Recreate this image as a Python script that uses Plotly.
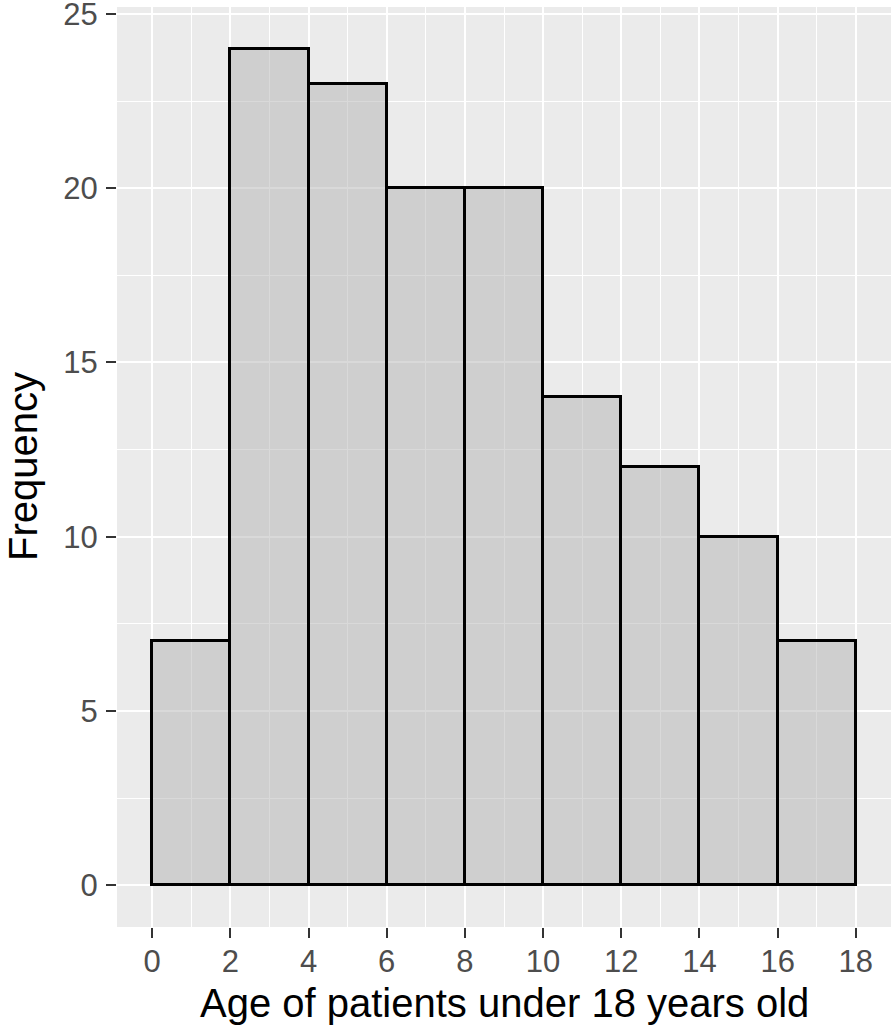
import plotly.graph_objects as go

bin_edges = [0, 2, 4, 6, 8, 10, 12, 14, 16, 18]
counts = [7, 24, 23, 20, 20, 14, 12, 10, 7]
x_ticks = [0, 2, 4, 6, 8, 10, 12, 14, 16, 18]
y_ticks = [0, 5, 10, 15, 20, 25]
x_title = "Age of patients under 18 years old"
y_title = "Frequency"

centers = [(bin_edges[i] + bin_edges[i + 1]) / 2 for i in range(len(counts))]
widths = [bin_edges[i + 1] - bin_edges[i] for i in range(len(counts))]

FONT = "Liberation Sans, Arial, Helvetica, sans-serif"

fig = go.Figure()
fig.add_trace(go.Bar(
    x=centers, y=counts, width=widths,
    marker=dict(color="rgba(180,180,180,0.5)", line=dict(color="black", width=3)),
    hoverinfo="x+y",
))

fig.update_layout(
    width=894, height=1030,
    margin=dict(l=117, r=3, t=7, b=103),
    paper_bgcolor="white", plot_bgcolor="#EBEBEB",
    showlegend=False,
    font=dict(family=FONT),
    bargap=0,
)
common = dict(
    showgrid=True, gridcolor="white", gridwidth=2,
    ticks="outside", ticklen=10, tickwidth=2.2, tickcolor="#333333",
    tickfont=dict(size=31, color="#4D4D4D", family=FONT),
    zeroline=False, showline=False, automargin=False,
    ticklabeloverflow="allow",
)
fig.update_xaxes(
    range=[-0.9, 18.9], tickvals=x_ticks, ticktext=[str(v) for v in x_ticks],
    minor=dict(dtick=1, tick0=0, showgrid=True, gridcolor="white", gridwidth=1, ticks=""),
    ticklabelstandoff=-3,
    **common,
)
fig.update_yaxes(
    range=[-1.2, 25.2], tickvals=y_ticks, ticktext=[str(v) for v in y_ticks],
    minor=dict(dtick=2.5, tick0=0, showgrid=True, gridcolor="white", gridwidth=1, ticks=""),
    ticklabelstandoff=2,
    **common,
)

fig.add_annotation(
    text=x_title, xref="paper", yref="paper", x=0.5, y=0,
    yshift=-76, xanchor="center", yanchor="middle", showarrow=False,
    font=dict(size=40, color="black", family=FONT),
)
fig.add_annotation(
    text=y_title, xref="paper", yref="paper", x=0, y=0.5,
    xshift=-94, xanchor="center", yanchor="middle", showarrow=False, textangle=-90,
    font=dict(size=40, color="black", family=FONT),
)

fig.write_html(
    "out.html",
    config={"displayModeBar": False},
    post_script="document.body.style.margin='0px';document.body.style.overflow='hidden';",
)
